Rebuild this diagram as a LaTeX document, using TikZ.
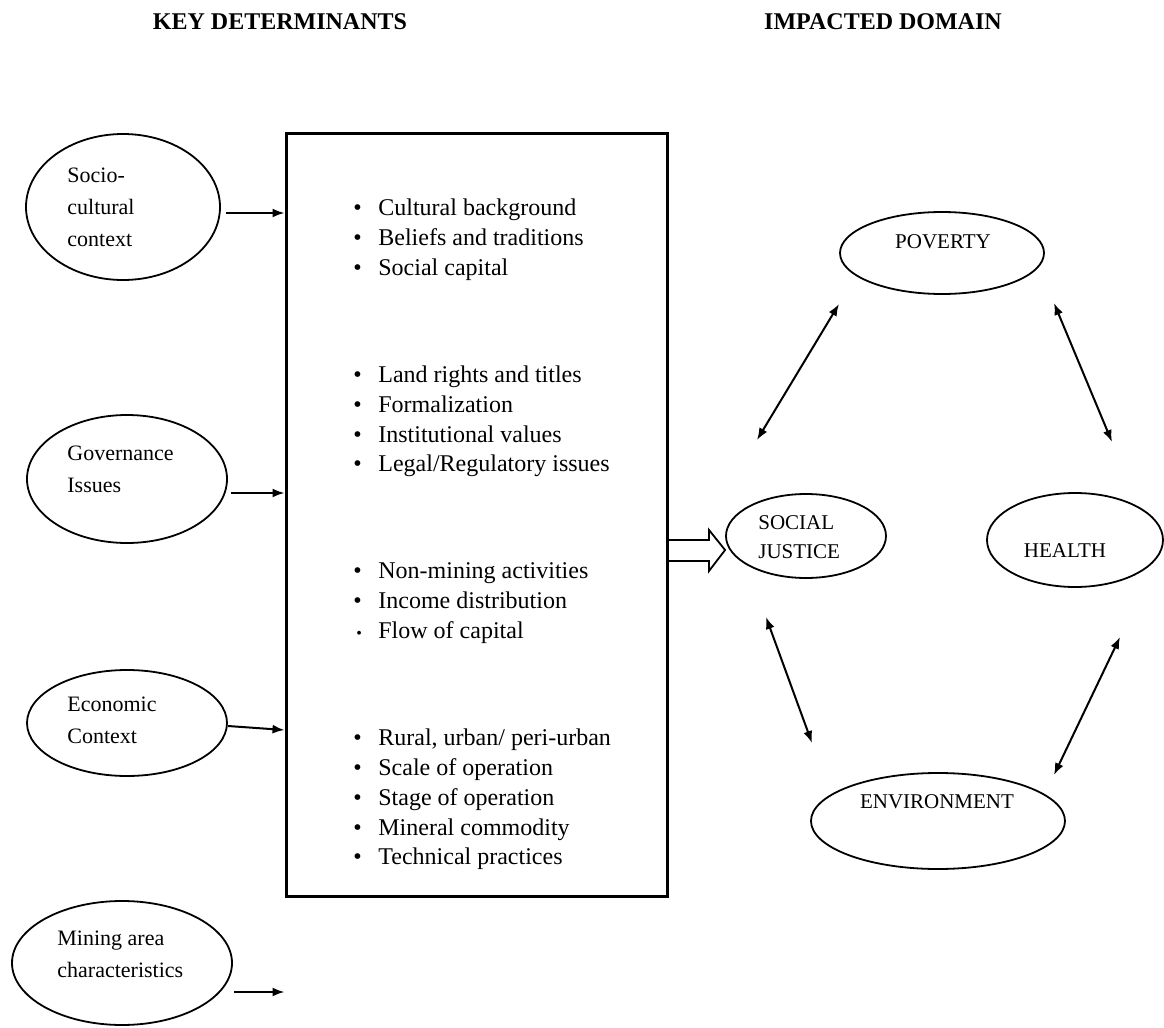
\documentclass[tikz,border=0pt]{standalone}
\usepackage{fontspec}
\setmainfont{Liberation Serif}
\usetikzlibrary{arrows.meta,shapes.geometric}
\newcommand{\blt}{\makebox[12.5pt][l]{\textbullet}}
\begin{document}
\begin{tikzpicture}[x=.5pt, y=-.5pt, >={Latex[length=6pt,width=4.5pt]},
  oval/.style={draw, ellipse, line width=.9pt, inner sep=0pt},
  lbl/.style={font=\fontsize{11}{16}\selectfont, align=left, anchor=west, inner sep=0pt},
  dom/.style={font=\fontsize{10.5}{14.5}\selectfont, align=left, inner sep=0pt},
  itm/.style={font=\fontsize{12}{14}\selectfont, anchor=base west, inner sep=0pt},
  head/.style={font=\bfseries\fontsize{12}{14}\selectfont, inner sep=0pt},
  link/.style={->, line width=1pt},
  both/.style={<->, line width=1pt}]
\useasboundingbox (0,0) rectangle (1164,1028);

\node [head] (kd) at (280,22) {KEY DETERMINANTS};
\node [head] (id) at (883,22) {IMPACTED DOMAIN};

\node [oval, minimum width=97pt, minimum height=73pt] (soc) at (123,207) {};
\node [oval, minimum width=100pt, minimum height=64pt] (gov) at (127,479) {};
\node [oval, minimum width=100pt, minimum height=53pt] (eco) at (127,723) {};
\node [oval, minimum width=110pt, minimum height=62pt] (min) at (122,963) {};
\node [lbl] (socT) at (67,207) {Socio-\\cultural\\context};
\node [lbl] (govT) at (67,469) {Governance\\Issues};
\node [lbl] (ecoT) at (67,720) {Economic\\Context};
\node [lbl] (minT) at (57,954) {Mining area\\characteristics};

\node [draw, line width=1.5pt, minimum width=190.5pt, minimum height=381.5pt, inner sep=0pt] (box) at (476.5,514.5) {};

\draw [link] ([shift={(5,6)}]soc.east) -- (box.west |- 0,213);
\draw [link] ([shift={(3,14)}]gov.east) -- (box.west |- 0,493);
\draw [link] ([shift={(0,3)}]eco.east) -- (box.west |- 0,730);
\draw [link] ([shift={(1,29)}]min.east) -- (box.west |- 0,992);

\node [itm] (c1) at (353,215) {\blt Cultural background};
\node [itm] (c2) at (353,245) {\blt Beliefs and traditions};
\node [itm] (c3) at (353,275) {\blt Social capital};
\node [itm] (g1) at (353,382) {\blt Land rights and titles};
\node [itm] (g2) at (353,412) {\blt Formalization};
\node [itm] (g3) at (353,442) {\blt Institutional values};
\node [itm] (g4) at (353,471) {\blt Legal/Regulatory issues};
\node [itm] (e1) at (353,578) {\blt Non-mining activities};
\node [itm] (e2) at (353,608) {\blt Income distribution};
\node [itm] (e3) at (353,638) {\makebox[12.5pt][l]{\hspace{1.5pt}\footnotesize\textbullet}Flow of capital};
\node [itm] (m1) at (353,745) {\blt Rural, urban/ peri-urban};
\node [itm] (m2) at (353,775) {\blt Scale of operation};
\node [itm] (m3) at (353,805) {\blt Stage of operation};
\node [itm] (m4) at (353,835) {\blt Mineral commodity};
\node [itm] (m5) at (353,864) {\blt Technical practices};

\node [oval, minimum width=102pt, minimum height=41pt] (pov) at (942,253) {};
\node [oval, minimum width=80pt, minimum height=42pt] (soj) at (806,536) {};
\node [oval, minimum width=88pt, minimum height=47pt] (hea) at (1075,540) {};
\node [oval, minimum width=127pt, minimum height=48pt] (env) at (938,821) {};
\node [dom] (povT) at (943,242) {POVERTY};
\node [dom, anchor=west] (sojT) at (758,537) {SOCIAL\\JUSTICE};
\node [dom] (heaT) at (1065,551) {HEALTH};
\node [dom] (envT) at (937,802) {ENVIRONMENT};

\draw [line width=.9pt] (box.east |- 0,540)--(709,540)--(709,530)--(soj.west |- 0,550)--(709,571)--(709,561)--(box.east |- 0,561);

\coordinate (ps1) at (839,304); \coordinate (ps2) at (757,440);
\coordinate (ph1) at (1054,303); \coordinate (ph2) at (1112,442);
\coordinate (se1) at (766,617); \coordinate (se2) at (812,743);
\coordinate (he1) at (1120,637); \coordinate (he2) at (1054,775);
\draw [both] (ps1)--(ps2);
\draw [both] (ph1)--(ph2);
\draw [both] (se1)--(se2);
\draw [both] (he1)--(he2);
\end{tikzpicture}
\end{document}
